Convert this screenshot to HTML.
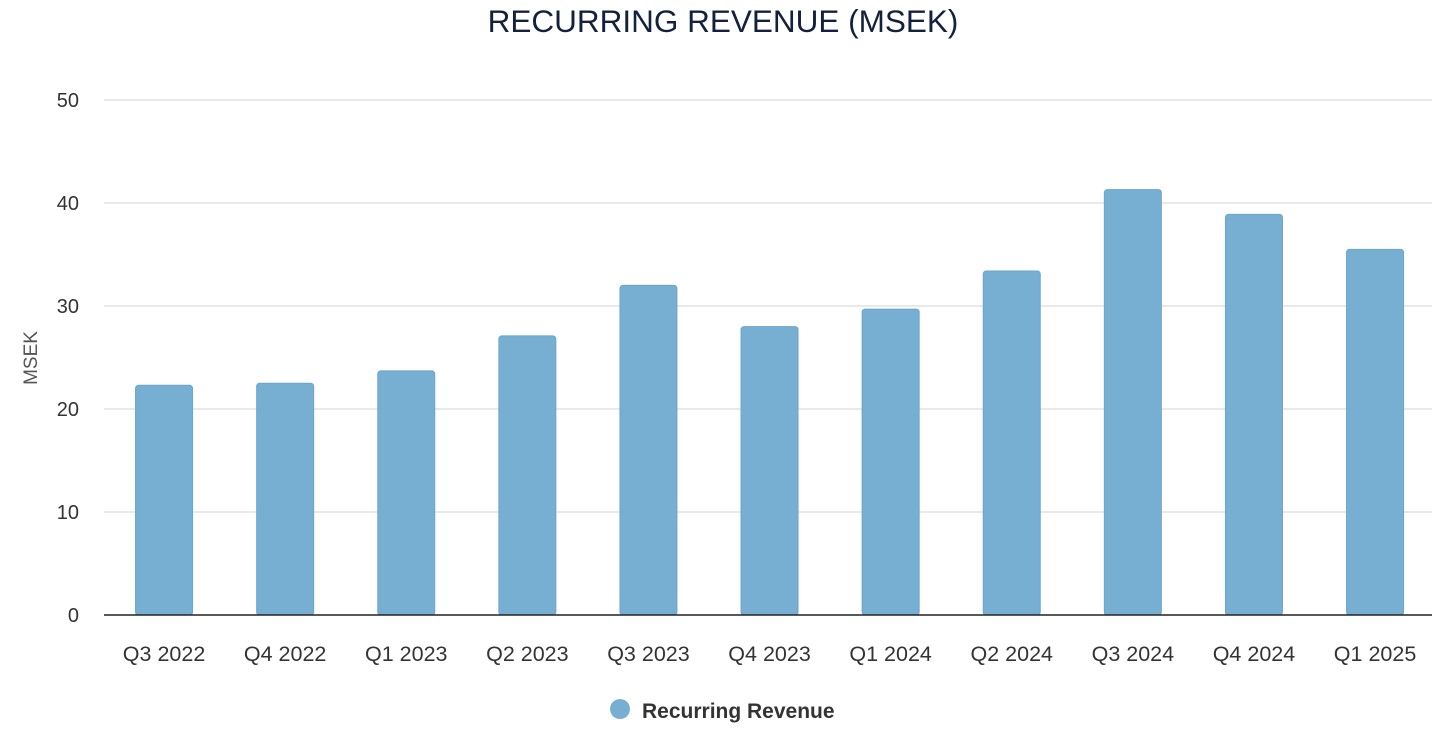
<!DOCTYPE html>
<html><head><meta charset="utf-8"><style>
body{margin:0;background:#fff;width:1456px;height:733px;overflow:hidden;font-family:"Liberation Sans",sans-serif}
</style></head><body>
<svg id="chart" width="1456" height="733">
<text x="723" y="32" text-anchor="middle" font-size="31.5" fill="#14213d" font-family="Liberation Sans,sans-serif">RECURRING REVENUE (MSEK)</text>
<text transform="translate(37,358) rotate(-90)" text-anchor="middle" font-size="19" fill="#555">MSEK</text>
<g id="grid"></g><g id="bars"></g><g id="xl"></g>
<line x1="104" x2="1432" y1="615" y2="615" stroke="#222" stroke-width="1.5"/>
<g>
<circle cx="620" cy="709" r="10" fill="#77afd3"/>
<text x="642" y="718" font-size="21" font-weight="bold" fill="#333">Recurring Revenue</text>
</g>
</svg>
<script>
const categories=["Q3 2022","Q4 2022","Q1 2023","Q2 2023","Q3 2023","Q4 2023","Q1 2024","Q2 2024","Q3 2024","Q4 2024","Q1 2025"];
const values=[22.3,22.5,23.7,27.1,32.0,28.0,29.7,33.4,41.3,38.9,35.5];
const yTicks=[0,10,20,30,40,50];
const NS="http://www.w3.org/2000/svg";
const x0=103.5,yb=615,yt=100,ymax=50;
const y=v=>yb-(v/ymax)*(yb-yt);
const band=121.1;
const xc=i=>x0+band*(i+0.5);
function mk(t,a,p){const e=document.createElementNS(NS,t);for(const k in a)e.setAttribute(k,a[k]);p.appendChild(e);return e;}
const g=document.getElementById('grid');
yTicks.forEach(v=>{
 if(v>0){const l=mk('line',{x1:104,x2:1432,y1:y(v),y2:y(v),stroke:'#e2e2e2','stroke-width':1.5},g);
 
 }
 const t=mk('text',{x:79,y:y(v)+7,'text-anchor':'end','font-size':20,fill:'#333'},g);t.textContent=v;
 
 
});
const b=document.getElementById('bars'),xl=document.getElementById('xl');
const bw=57;
categories.forEach((c,i)=>{
 const r=mk('rect',{x:xc(i)-bw/2,y:y(values[i]),width:bw,height:yb-y(values[i]),rx:3,fill:'#77afd3',stroke:'#6aa5cc','stroke-width':1},b);
 
 
 const t=mk('text',{x:xc(i),y:661,'text-anchor':'middle','font-size':21.5,fill:'#333'},xl);t.textContent=c;
 
 
});
</script>
</body></html>
